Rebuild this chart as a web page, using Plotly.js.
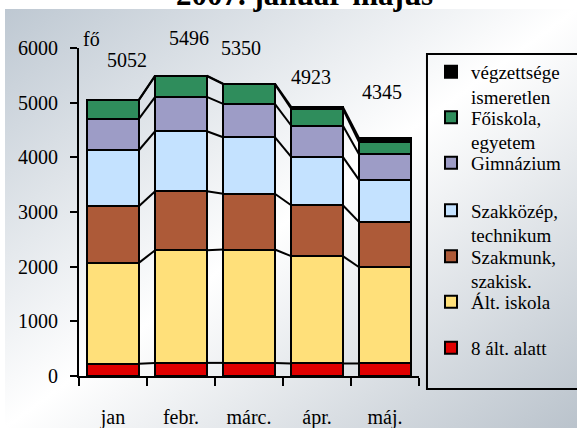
<!DOCTYPE html>
<html>
<head>
<meta charset="utf-8">
<script src="https://cdn.plot.ly/plotly-3.0.1.min.js"></script>
<style>
  html, body { margin: 0; padding: 0; background: #ffffff; }
  #wrap { position: relative; width: 577px; height: 428px; overflow: hidden; }
  #bg { position: absolute; left: 5px; top: 9px; width: 572px; height: 419px;
        background: linear-gradient(to bottom right, #bec8d2 0%, #ffffff 50%, #bac3cc 100%); }
  #chart { position: absolute; left: 0; top: 0; width: 577px; height: 428px; }
</style>
</head>
<body>
<div id="wrap"><div id="bg"></div><div id="chart"></div></div>
<script>
// ---- data ----
const months      = ['jan', 'febr.', 'márc.', 'ápr.', 'máj.'];
const totals      = [5052, 5496, 5350, 4923, 4345];
const alatt8      = [225, 240, 240, 229, 229];     // 8 ált. alatt
const altIskola   = [1845, 2061, 2074, 1963, 1761]; // Ált. iskola
const szakmunkas  = [1036, 1080, 1019, 932, 824];   // Szakmunk, szakisk.
const szakkozep   = [1024, 1097, 1035, 885, 768];   // Szakközép, technikum
const gimnazium   = [575, 629, 611, 573, 470];      // Gimnázium
const foiskola    = [340, 380, 361, 306, 225];      // Főiskola, egyetem
const ismeretlen  = [7, 9, 10, 35, 68];             // végzettsége ismeretlen
const yTicks      = [0, 1000, 2000, 3000, 4000, 5000, 6000];

const seriesNames = ['8 ált. alatt', 'Ált. iskola', 'Szakmunk,<br>szakisk.',
                     'Szakközép,<br>technikum', 'Gimnázium', 'Főiskola,<br>egyetem',
                     'végzettsége<br>ismeretlen'];
const seriesData  = [alatt8, altIskola, szakmunkas, szakkozep, gimnazium, foiskola, ismeretlen];
const seriesColors = ['#e00000', '#ffe07a', '#ad5a38', '#c4e2ff', '#9d9cc6', '#2f8d5c', '#000000'];

// layout tweaks (pixels): total-label offsets, legend entry centres
const labelDx = [14, 8, -8, -6, -3];
const labelDy = [40, 38, 36, 30, 46];
const legendCenterPx = [348, 302, 269, 223, 163, 130, 84.5];
const legendLeftPx = 431;

const FONT = 'Liberation Serif';
const barWidth = 0.76;
const PL = 79, PR = 420, PT = 48, PB = 376;
const px2x = (p) => (p - PL) / (PR - PL);
const px2y = (p) => (PB - p) / (PB - PT);

function draw() {
  const traces = [];
  const layoutLegends = {};
  seriesData.forEach((vals, k) => {
    const lg = k === 0 ? 'legend' : 'legend' + (k + 1);
    traces.push({
      type: 'bar', x: months, y: vals, name: seriesNames[k], legend: lg,
      marker: { color: seriesColors[k], line: { color: '#000000', width: 2 } },
      hoverinfo: 'y+name'
    });
    layoutLegends[lg] = {
      x: px2x(legendLeftPx), xanchor: 'left', y: px2y(legendCenterPx[k]), yanchor: 'middle',
      valign: 'top', bgcolor: 'rgba(0,0,0,0)', borderwidth: 0,
      font: { family: FONT, size: 19, color: '#000' }
    };
  });

  // series lines between bars (Excel style), from cumulative tops
  const cum = months.map(() => 0);
  seriesData.forEach((vals) => {
    const xs = [], ys = [];
    vals.forEach((v, i) => { cum[i] += v; });
    for (let i = 0; i < months.length - 1; i++) {
      xs.push(i + barWidth / 2, i + 1 - barWidth / 2, null);
      ys.push(cum[i], cum[i + 1], null);
    }
    traces.push({
      type: 'scatter', mode: 'lines', x: xs, y: ys, xaxis: 'x2', yaxis: 'y',
      line: { color: '#000000', width: 2 }, showlegend: false, hoverinfo: 'skip'
    });
  });

  const annotations = totals.map((t, i) => ({
    x: i, y: t, xref: 'x2', yref: 'y', text: String(t), showarrow: false,
    xshift: labelDx[i], yshift: labelDy[i], font: { family: FONT, size: 20, color: '#000' }
  }));
  annotations.push({
    x: 0, y: 1, xref: 'paper', yref: 'paper', text: 'fő', showarrow: false,
    xanchor: 'left', yanchor: 'middle', xshift: 2, yshift: 9,
    font: { family: FONT, size: 20, color: '#000' }
  });
  annotations.push({
    x: px2x(305), y: 1, xref: 'paper', yref: 'paper', text: '<b>2007. január-május</b>',
    showarrow: false, xanchor: 'center', yanchor: 'middle', yshift: 54,
    font: { family: FONT, size: 31, color: '#000' }
  });

  const layout = Object.assign({
    width: 577, height: 428,
    margin: { l: PL, r: 577 - PR, t: PT, b: 428 - PB },
    paper_bgcolor: 'rgba(0,0,0,0)', plot_bgcolor: 'rgba(0,0,0,0)',
    barmode: 'stack', bargap: 0.24,
    font: { family: FONT, size: 20, color: '#000' },
    xaxis: {
      type: 'category', range: [-0.5, 4.5], tickson: 'boundaries',
      showline: true, linecolor: '#000', linewidth: 2,
      ticks: 'outside', ticklen: 8, tickwidth: 2, tickcolor: '#000',
      ticklabelstandoff: 22, showgrid: false, zeroline: false,
      tickfont: { family: FONT, size: 20, color: '#000' }
    },
    xaxis2: { overlaying: 'x', range: [-0.5, 4.5], visible: false, fixedrange: true },
    yaxis: {
      range: [0, 6000], tickvals: yTicks, ticktext: yTicks.map(String),
      showline: true, linecolor: '#000', linewidth: 2,
      ticks: 'outside', ticklen: 7, tickwidth: 2, tickcolor: '#000',
      ticklabelstandoff: 8, showgrid: false, zeroline: false,
      tickfont: { family: FONT, size: 20, color: '#000' }
    },
    showlegend: true,
    shapes: [{
      type: 'rect', xref: 'paper', yref: 'paper',
      x0: px2x(428), x1: px2x(590), y0: px2y(389), y1: px2y(54),
      line: { color: '#000', width: 2 }, fillcolor: 'rgba(0,0,0,0)', layer: 'below'
    }],
    annotations: annotations
  }, layoutLegends);

  Plotly.newPlot('chart', traces, layout, { displayModeBar: false });
}

draw();
</script>
</body>
</html>
